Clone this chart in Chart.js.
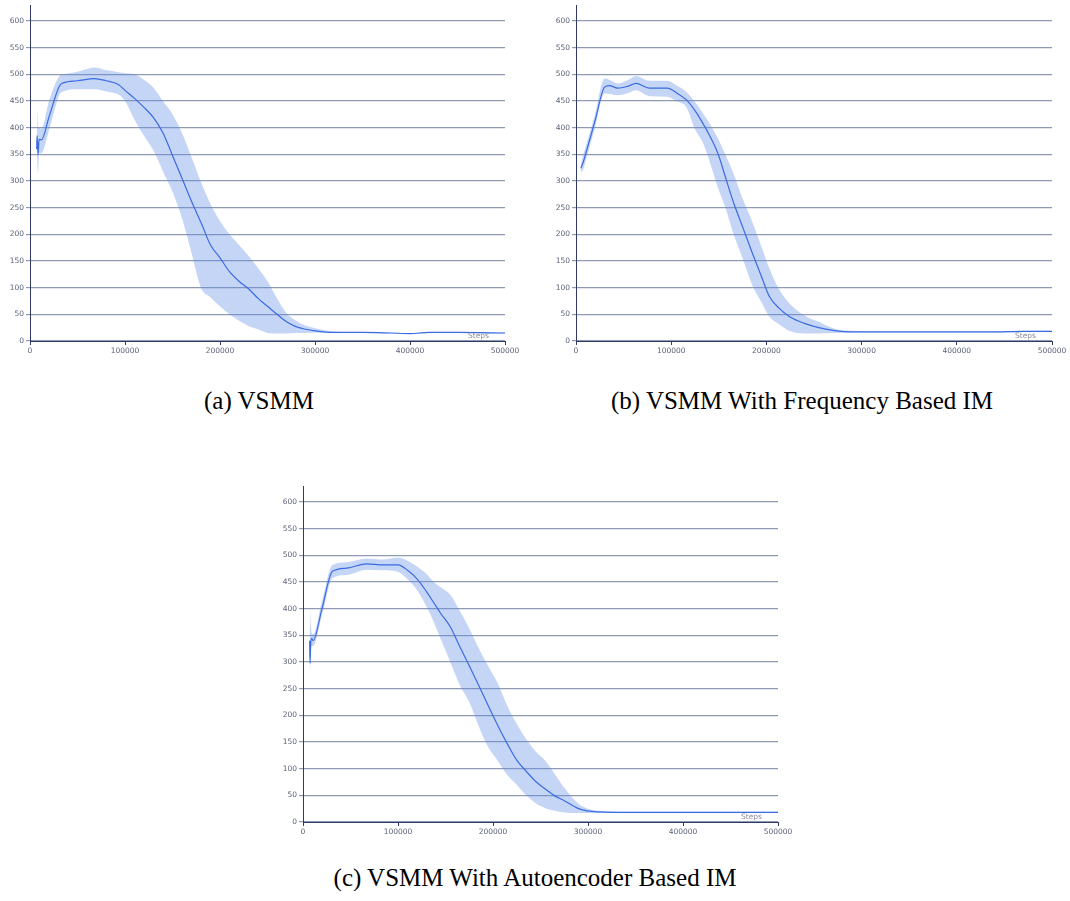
<!DOCTYPE html>
<html>
<head>
<meta charset="utf-8">
<script src="https://cdn.jsdelivr.net/npm/chart.js@4.4.0/dist/chart.umd.min.js"></script>
<style>
  html, body { margin: 0; padding: 0; background: #fff; }
  #page { position: relative; width: 1070px; height: 901px; overflow: hidden; }
  canvas { position: absolute; }
  .caption {
    position: absolute;
    font-family: "Liberation Serif", "Times New Roman", serif;
    font-size: 25px;
    line-height: 25px;
    color: #000;
    white-space: nowrap;
    transform: translateX(-50%);
  }
</style>
</head>
<body>
<div id="page">
  <canvas id="chartA" width="525" height="365" style="left:0px;top:0px;"></canvas>
  <canvas id="chartB" width="524" height="365" style="left:546px;top:0px;"></canvas>
  <canvas id="chartC" width="525" height="365" style="left:273px;top:481px;"></canvas>
  <div class="caption" style="left:259px;top:388px;">(a) VSMM</div>
  <div class="caption" style="left:802px;top:388px;">(b) VSMM With Frequency Based IM</div>
  <div class="caption" style="left:535px;top:865px;">(c) VSMM With Autoencoder Based IM</div>
</div>
<script>
// Episode length over training steps: mean with a shaded min/max band

// (a) VSMM
var stepsA = [7000, 7500, 8500, 9500, 12000, 20000, 31000, 35000, 50000, 68000,
  80000, 93000, 100000, 110000, 120000, 130000, 140000, 150000, 160000, 170000,
  180000, 190000, 200000, 210000, 220000, 230000, 240000, 250000, 260000, 270000,
  280000, 290000, 300000, 320000, 350000, 380000, 400000, 420000, 450000, 500000];
var meanA = [360, 385, 350, 378, 377, 420, 478, 484, 488, 492,
  488, 481, 470, 455, 438, 419, 390, 348, 305, 262,
  222, 180, 156, 130, 112, 98, 80, 65, 50, 36,
  27, 22, 19, 16, 16, 15, 14, 16, 16, 15];
var upperA = [365, 430, 400, 400, 398, 450, 497, 500, 505, 513,
  508, 504, 502, 500, 490, 475, 450, 425, 390, 345,
  298, 257, 225, 200, 180, 160, 137, 112, 80, 52,
  38, 29, 24, 18, 16, 15, 15, 17, 17, 16];
var lowerA = [355, 340, 315, 352, 352, 395, 462, 468, 472, 472,
  468, 462, 450, 415, 385, 357, 318, 280, 230, 165,
  100, 82, 65, 50, 38, 28, 22, 15, 14, 14,
  15, 15, 16, 15, 15, 14, 13, 15, 15, 14];

// (b) VSMM with frequency based IM
var stepsB = [5000, 7700, 9400, 20000, 30000, 35000, 44000, 55000, 63000, 77000,
  96000, 105000, 116000, 125000, 133000, 141000, 149000, 157000, 165000, 175000,
  185000, 195000, 203000, 213000, 224000, 240000, 255000, 270000, 290000, 320000,
  360000, 400000, 440000, 470000, 500000];
var meanB = [324, 336, 346, 413, 476, 479, 474, 478, 483, 474,
  474, 466, 452, 432, 409, 383, 352, 307, 262, 214,
  166, 120, 84, 62, 46, 33, 25, 20, 17, 17,
  17, 17, 17, 18, 18];
var upperB = [330, 350, 360, 425, 492, 490, 483, 490, 497, 488,
  488, 480, 467, 448, 428, 406, 380, 349, 316, 267,
  224, 176, 137, 98, 71, 48, 36, 24, 19, 18,
  18, 18, 18, 19, 19];
var lowerB = [316, 322, 333, 400, 464, 463, 461, 465, 470, 459,
  458, 450, 438, 397, 373, 333, 288, 250, 203, 155,
  105, 72, 46, 32, 19, 14, 14, 15, 16, 16,
  16, 16, 16, 17, 17];

// (c) VSMM with autoencoder based IM
var stepsC = [7000, 7400, 8100, 9100, 10600, 20000, 31000, 46000, 67000, 84000,
  100000, 110000, 120000, 130000, 137000, 145000, 155000, 165000, 175000, 186000,
  195000, 205000, 215000, 225000, 235000, 245000, 255000, 265000, 275000, 290000,
  310000, 350000, 400000, 450000, 500000];
var meanC = [340, 298, 335, 344, 340, 400, 470, 476, 484, 482,
  482, 472, 456, 432, 413, 391, 366, 329, 293, 252,
  218, 181, 147, 116, 95, 76, 62, 49, 40, 25,
  19, 18, 18, 18, 18];
var upperC = [345, 397, 370, 355, 352, 415, 482, 487, 494, 492,
  496, 490, 479, 465, 451, 440, 426, 396, 363, 322,
  292, 260, 218, 184, 155, 132, 115, 90, 64, 34,
  21, 19, 19, 19, 19];
var lowerC = [335, 285, 310, 330, 330, 388, 457, 463, 473, 472,
  469, 455, 435, 404, 378, 343, 300, 257, 225, 175,
  140, 115, 88, 70, 50, 35, 26, 21, 18, 17,
  17, 17, 17, 17, 17];

var yTicks = [0, 50, 100, 150, 200, 250, 300, 350, 400, 450, 500, 550, 600];
var xTicks = [0, 100000, 200000, 300000, 400000, 500000];

var axisColor = '#2f3a66';
var gridColor = '#8e9ab2';
var labelColor = '#5b6379';

Chart.defaults.font.family = '"DejaVu Sans", sans-serif';

// small "Steps" label sitting on the x axis, right side
var stepsLabel = {
  id: 'stepsLabel',
  afterDraw: function(chart) {
    var ctx = chart.ctx;
    var area = chart.chartArea;
    ctx.save();
    ctx.font = '7.5px "DejaVu Sans", sans-serif';
    ctx.fillStyle = '#878c97';
    ctx.textAlign = 'right';
    ctx.textBaseline = 'alphabetic';
    ctx.fillText('Steps', area.right - 16, area.bottom - 3);
    ctx.restore();
  }
};

function toPoints(steps, values) {
  return steps.map(function(s, i) { return { x: s, y: values[i] }; });
}

function makeChart(id, steps, mean, upper, lower, padRight) {
  var ctx = document.getElementById(id).getContext('2d');
  return new Chart(ctx, {
    type: 'line',
    data: {
      datasets: [
        {
          data: toPoints(steps, mean),
          borderColor: '#3a6be3',
          borderWidth: 1.2,
          pointRadius: 0,
          fill: false,
          cubicInterpolationMode: 'monotone'
        },
        {
          data: toPoints(steps, upper),
          borderColor: 'rgba(0,0,0,0)',
          borderWidth: 0,
          pointRadius: 0,
          backgroundColor: 'rgba(99, 140, 230, 0.37)',
          fill: '+1',
          cubicInterpolationMode: 'monotone'
        },
        {
          data: toPoints(steps, lower),
          borderColor: 'rgba(0,0,0,0)',
          borderWidth: 0,
          pointRadius: 0,
          fill: false,
          cubicInterpolationMode: 'monotone'
        }
      ]
    },
    options: {
      responsive: false,
      animation: false,
      layout: { padding: { top: 5, right: padRight, left: 0, bottom: 0 } },
      plugins: {
        legend: { display: false },
        tooltip: { enabled: false }
      },
      scales: {
        x: {
          type: 'linear',
          min: 0,
          max: 500000,
          afterBuildTicks: function(scale) {
            scale.ticks = xTicks.map(function(v) { return { value: v }; });
          },
          afterFit: function(scale) {
            scale.height = 24;
            scale.paddingLeft = 0;
            scale.paddingRight = 0;
          },
          ticks: {
            color: labelColor,
            font: { size: 7.5 },
            padding: 2,
            maxRotation: 0,
            autoSkip: false,
            callback: function(v) { return String(v); }
          },
          grid: {
            drawOnChartArea: false,
            drawTicks: true,
            tickLength: 4,
            color: axisColor
          },
          border: { display: true, color: axisColor, width: 1 }
        },
        y: {
          min: 0,
          max: 630,
          afterBuildTicks: function(scale) {
            scale.ticks = yTicks.map(function(v) { return { value: v }; });
          },
          afterFit: function(scale) {
            scale.width = 30;
            scale.paddingTop = 0;
            scale.paddingBottom = 0;
          },
          ticks: {
            color: labelColor,
            font: { size: 7.5 },
            padding: 2,
            autoSkip: false
          },
          grid: {
            color: gridColor,
            lineWidth: 1.2,
            tickLength: 4
          },
          border: { display: true, color: axisColor, width: 1 }
        }
      }
    },
    plugins: [stepsLabel]
  });
}

makeChart('chartA', stepsA, meanA, upperA, lowerA, 20);
makeChart('chartB', stepsB, meanB, upperB, lowerB, 18);
makeChart('chartC', stepsC, meanC, upperC, lowerC, 20);
</script>
</body>
</html>
